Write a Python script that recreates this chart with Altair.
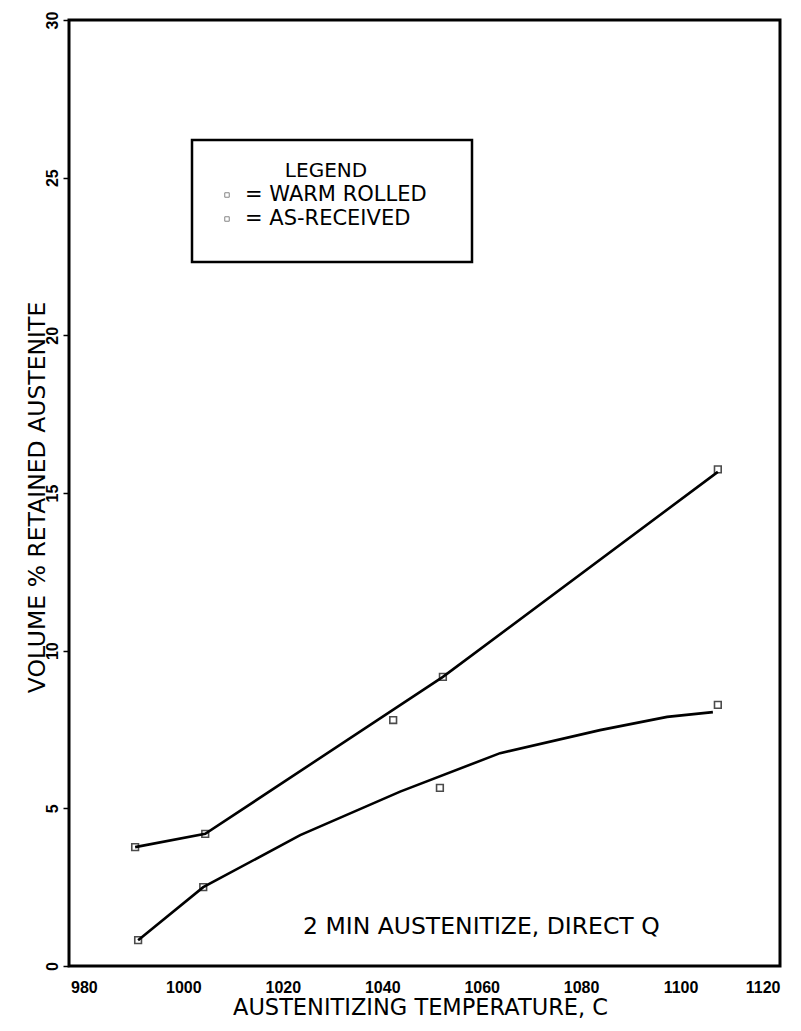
import altair as alt
import pandas as pd

# ---- data ----
temp_ticks = [980, 1000, 1020, 1040, 1060, 1080, 1100, 1120]
vol_ticks = [0, 5, 10, 15, 20, 25, 30]

# warm rolled (upper curve)
wr_line_t = [990.3, 1004.4, 1052.2, 1107.5]
wr_line_v = [3.77, 4.19, 9.17, 15.67]
wr_mark_t = [990.3, 1004.4, 1042.2, 1052.2, 1107.5]
wr_mark_v = [3.77, 4.19, 7.8, 9.17, 15.75]

# as-received (lower curve)
ar_line_t = [990.9, 1004.0, 1023.5, 1043.6, 1063.7, 1083.8, 1097.3, 1106.5]
ar_line_v = [0.82, 2.5, 4.15, 5.53, 6.75, 7.48, 7.9, 8.05]
ar_mark_t = [990.9, 1004.0, 1051.6, 1107.5]
ar_mark_v = [0.82, 2.5, 5.65, 8.28]

FONT = "DejaVu Sans"
TICKFONT = "Liberation Sans"

lines = pd.concat([
    pd.DataFrame({"t": wr_line_t, "v": wr_line_v, "s": "WARM ROLLED"}),
    pd.DataFrame({"t": ar_line_t, "v": ar_line_v, "s": "AS-RECEIVED"}),
])
marks = pd.concat([
    pd.DataFrame({"t": wr_mark_t, "v": wr_mark_v, "s": "WARM ROLLED"}),
    pd.DataFrame({"t": ar_mark_t, "v": ar_mark_v, "s": "AS-RECEIVED"}),
])

xscale = alt.Scale(domain=[977, 1120], nice=False, zero=False)
yscale = alt.Scale(domain=[0, 30], nice=False)

xaxis = alt.Axis(values=temp_ticks, format="d", title="AUSTENITIZING TEMPERATURE, C",
                 grid=False, domain=False, ticks=False,
                 labelFont=TICKFONT, labelFontSize=16, labelFontWeight="bold",
                 labelColor="black", labelPadding=13,
                 titleFont=FONT, titleFontSize=22.5, titleFontWeight="normal",
                 titleColor="black", titleY=41, titleBaseline="middle",
                 titleX=351, titleAnchor="middle")
yaxis = alt.Axis(values=vol_ticks, format="d", title="VOLUME % RETAINED AUSTENITE",
                 grid=False, domain=False, tickSize=6, tickWidth=1.5,
                 tickColor="black", labelAngle=270,
                 labelFont=TICKFONT, labelFontSize=16, labelFontWeight="bold",
                 labelColor="black", labelPadding=3,
                 titleFont=FONT, titleFontSize=23.5, titleFontWeight="normal",
                 titleColor="black", titleAngle=270, titleX=-32, titleY=477,
                 titleAlign="center", titleBaseline="middle")

line_layer = alt.Chart(lines).mark_line(
    color="black", strokeWidth=2.6
).encode(
    x=alt.X("t:Q", scale=xscale, axis=xaxis),
    y=alt.Y("v:Q", scale=yscale, axis=yaxis),
    detail="s:N",
)

point_layer = alt.Chart(marks).mark_point(
    shape="square", filled=False, size=45, strokeWidth=1.6, color="black"
).encode(x=alt.X("t:Q", scale=xscale), y=alt.Y("v:Q", scale=yscale))

one = pd.DataFrame({"a": [0]})

legend_box = alt.Chart(one).mark_rect(
    fill="white", stroke="black", strokeWidth=2.5
).encode(x=alt.value(123), x2=alt.value(403), y=alt.value(120), y2=alt.value(242))

legend_title = alt.Chart(one).mark_text(
    text="LEGEND", font=FONT, fontSize=20, align="center", baseline="middle", color="black"
).encode(x=alt.value(257), y=alt.value(151))

legend_l1 = alt.Chart(one).mark_text(
    text="= WARM ROLLED", font=FONT, fontSize=21, align="left", baseline="middle", color="black"
).encode(x=alt.value(176), y=alt.value(175))

legend_l2 = alt.Chart(one).mark_text(
    text="= AS-RECEIVED", font=FONT, fontSize=21, align="left", baseline="middle", color="black"
).encode(x=alt.value(176), y=alt.value(199))

legend_sym = alt.Chart(pd.DataFrame({"yy": [175, 199]})).mark_point(
    shape="square", filled=False, size=20, strokeWidth=1, color="#555555"
).encode(x=alt.value(158), y=alt.Y("yy:Q", scale=None))

note = alt.Chart(one).mark_text(
    text="2 MIN AUSTENITIZE, DIRECT Q", font=FONT, fontSize=23.5,
    align="left", baseline="middle", color="black"
).encode(x=alt.value(234), y=alt.value(907))

chart = alt.layer(
    line_layer, point_layer, legend_box, legend_title, legend_l1, legend_l2,
    legend_sym, note
).properties(
    width=711, height=946,
    autosize=alt.AutoSizeParams(type="none"),
    padding={"left": 61, "top": 12, "right": 13, "bottom": 57},
    background="white",
).configure_view(
    stroke="black", strokeWidth=3
)

chart.save("out.html", embed_options={"renderer": "svg", "actions": False})
